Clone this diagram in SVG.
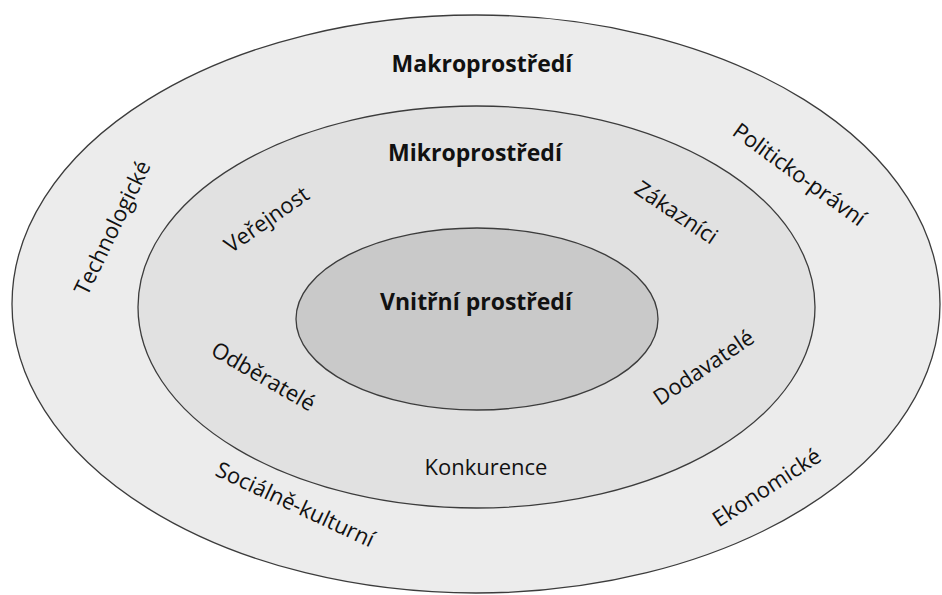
<svg xmlns="http://www.w3.org/2000/svg" width="942" height="595" viewBox="0 0 942 595">
<style>
.ring{stroke:#3c3c3c;stroke-width:1.3}
.t{font-family:"Open Sans","Noto Sans","Liberation Sans",sans-serif;fill:#111;text-anchor:middle}
.b{font-weight:bold;font-size:23px}
.r{font-size:22px}
</style>
<rect width="942" height="595" fill="#ffffff"/>
<g id="makro">
<ellipse class="ring" cx="476" cy="304" rx="464" ry="289" fill="#ececec"/>
<text class="t b" x="482" y="72">Makroprostředí</text>
<g transform="translate(113,228) rotate(-64)"><text class="t r" x="0" y="7">Technologické</text></g>
<g transform="translate(799,175) rotate(36)"><text class="t r" x="0" y="7">Politicko-právní</text></g>
<g transform="translate(295,505) rotate(25)"><text class="t r" x="0" y="7">Sociálně-kulturní</text></g>
<g transform="translate(767,488) rotate(-33)"><text class="t r" x="0" y="7">Ekonomické</text></g>
</g>
<g id="mikro">
<ellipse class="ring" cx="476.5" cy="307" rx="338.5" ry="201" fill="#e1e1e1"/>
<text class="t b" x="475" y="161">Mikroprostředí</text>
<g transform="translate(267,220) rotate(-35)"><text class="t r" x="0" y="7">Veřejnost</text></g>
<g transform="translate(676,213) rotate(34)"><text class="t r" x="0" y="7">Zákazníci</text></g>
<g transform="translate(263,377) rotate(30)"><text class="t r" x="0" y="7">Odběratelé</text></g>
<g transform="translate(704,368) rotate(-34)"><text class="t r" x="0" y="7">Dodavatelé</text></g>
<text class="t r" x="486" y="475">Konkurence</text>
</g>
<g id="vnitrni">
<ellipse class="ring" cx="477" cy="319" rx="181" ry="91" fill="#c9c9c9"/>
<text class="t b" x="476" y="310">Vnitřní prostředí</text>
</g>
<g id="connectors"/>
</svg>
